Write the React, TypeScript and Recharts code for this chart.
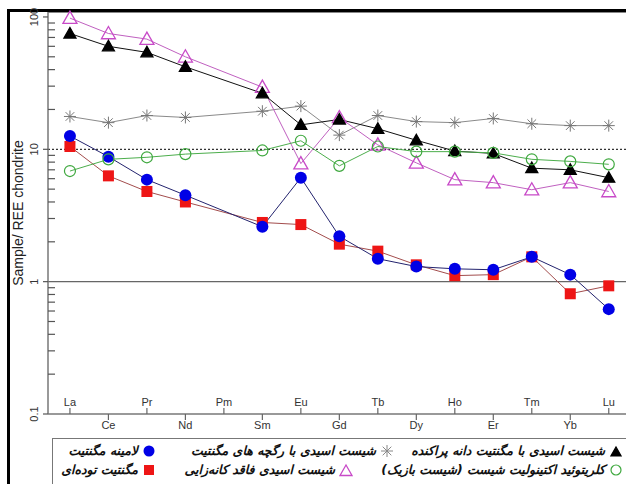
import React from 'react';
import { LineChart, Line, XAxis, YAxis, ReferenceLine } from 'recharts';

// REE elements along the x axis (Pm has no data)
const elements = ['La', 'Ce', 'Pr', 'Nd', 'Pm', 'Sm', 'Eu', 'Gd', 'Tb', 'Dy', 'Ho', 'Er', 'Tm', 'Yb', 'Lu'];

// chondrite-normalised values
const disseminated = [75, 60, 54, 42, null, 26.5, 15.3, 16.8, 14.3, 11.7, 9.7, 9.3, 7.2, 7.0, 6.1];
const veinlet = [17.7, 15.9, 18, 17.4, null, 19.4, 21.2, 12.8, 18, 16.2, 15.9, 17.1, 15.6, 15.1, 15.1];
const basicSchist = [6.85, 8.4, 8.7, 9.2, null, 9.8, 11.6, 7.5, 10.5, 9.6, 9.6, 9.4, 8.4, 8.1, 7.7];
const barren = [98, 75, 68, 50, null, 29.5, 7.8, 17.4, 10.8, 7.9, 5.9, 5.6, 4.95, 5.6, 4.8];
const laminated = [12.6, 8.8, 5.9, 4.5, null, 2.6, 6.1, 2.2, 1.49, 1.3, 1.25, 1.23, 1.54, 1.13, 0.62];
const massive = [10.5, 6.3, 4.8, 4.0, null, 2.8, 2.7, 1.92, 1.7, 1.34, 1.11, 1.13, 1.54, 0.81, 0.93];

const yMajor = [0.1, 1, 10, 100];
const yTicks = [
  0.1, 0.2, 0.3, 0.4, 0.5, 0.6, 0.7, 0.8, 0.9,
  1, 2, 3, 4, 5, 6, 7, 8, 9,
  10, 20, 30, 40, 50, 60, 70, 80, 90, 100,
];

const labels = {
  disseminated: 'شیست اسیدی با مگنتیت دانه پراکنده',
  veinlet: 'شیست اسیدی با رگچه های مگنتیت',
  laminated: 'لامینه مگنتیت',
  basicSchist: 'کلریتوئید اکتینولیت شیست (شیست بازیک)',
  barren: 'شیست اسیدی فاقد کانه‌زایی',
  massive: 'مگنتیت توده‌ای',
};

const data = elements.map((el, i) => ({
  x: i + 1,
  el,
  disseminated: disseminated[i],
  veinlet: veinlet[i],
  basicSchist: basicSchist[i],
  barren: barren[i],
  laminated: laminated[i],
  massive: massive[i],
}));

const FONT = '"Liberation Sans", Arial, sans-serif';

// marker shapes
const Tri = ({ cx, cy, fill, stroke, s = 6 }: any) => (
  <polygon
    points={`${cx},${cy - s} ${cx - s},${cy + s * 0.75} ${cx + s},${cy + s * 0.75}`}
    fill={fill}
    stroke={stroke}
    strokeWidth={1.3}
  />
);
const Star = ({ cx, cy, r = 6, stroke = '#777' }: any) => {
  const d = r * 0.72;
  return (
    <g stroke={stroke} strokeWidth={1}>
      <line x1={cx - r} y1={cy} x2={cx + r} y2={cy} />
      <line x1={cx} y1={cy - r} x2={cx} y2={cy + r} />
      <line x1={cx - d} y1={cy - d} x2={cx + d} y2={cy + d} />
      <line x1={cx - d} y1={cy + d} x2={cx + d} y2={cy - d} />
    </g>
  );
};

const dotFn = (kind: string) => (p: any) => {
  const { cx, cy, index, value } = p;
  if (value == null || cx == null || cy == null) return <g key={`${kind}-${index}`} />;
  const k = `${kind}-${index}`;
  switch (kind) {
    case 'tri':
      return <Tri key={k} cx={cx} cy={cy} fill="#000" stroke="#000" s={6} />;
    case 'otri':
      return <Tri key={k} cx={cx} cy={cy} fill="none" stroke="#c84ac8" s={7} />;
    case 'star':
      return <Star key={k} cx={cx} cy={cy} />;
    case 'ocirc':
      return <circle key={k} cx={cx} cy={cy} r={5.5} fill="none" stroke="#3ea83e" strokeWidth={1.2} />;
    case 'circ':
      return <circle key={k} cx={cx} cy={cy} r={6} fill="#0000e6" />;
    default:
      return <rect key={k} x={cx - 5.5} y={cy - 5.5} width={11} height={11} fill="#ee1515" />;
  }
};

const XTick = ({ x, y, payload }: any) => {
  const i = payload.value - 1;
  const up = i % 2 === 0;
  return (
    <g>
      <line x1={x} x2={x} y1={up ? y - 6 : y} y2={up ? y : y + 6} stroke="#666" strokeWidth={1.2} />
      <text
        x={x}
        y={up ? y - 11 : y + 12}
        textAnchor="middle"
        dominantBaseline="middle"
        fontSize={11}
        fontFamily={FONT}
        fill="#333"
      >
        {elements[i]}
      </text>
    </g>
  );
};

const YTick = ({ x, y, payload }: any) => {
  const major = yMajor.includes(payload.value);
  if (!major) {
    return <line x1={x} x2={x + 7} y1={y} y2={y} stroke="#555" strokeWidth={1.2} />;
  }
  return (
    <g>
      <line x1={x - 5} x2={x} y1={y} y2={y} stroke="#555" strokeWidth={1.2} />
      <text
        x={x - 10}
        y={y}
        transform={`rotate(-90, ${x - 10}, ${y})`}
        textAnchor="middle"
        fontSize={11}
        fontFamily={FONT}
        fill="#333"
      >
        {String(payload.value)}
      </text>
    </g>
  );
};

const Marker = ({ kind }: { kind: string }) => (
  <svg width={14} height={14} style={{ display: 'block' }}>
    {kind === 'tri' && <Tri cx={7} cy={8} fill="#000" stroke="#000" s={5} />}
    {kind === 'otri' && <Tri cx={7} cy={8} fill="none" stroke="#c84ac8" s={6} />}
    {kind === 'star' && <Star cx={7} cy={7} r={6} stroke="#888" />}
    {kind === 'ocirc' && <circle cx={7} cy={7} r={5} fill="none" stroke="#3ea83e" strokeWidth={1.2} />}
    {kind === 'circ' && <circle cx={7} cy={7} r={5.5} fill="#0000e6" />}
    {kind === 'sq' && <rect x={2} y={2} width={10} height={10} fill="#ee1515" />}
  </svg>
);

// right offsets are measured from the legend box's right edge (page x = 672)
const legendItems = [
  { kind: 'tri', text: labels.disseminated, right: 48, top: 4 },
  { kind: 'star', text: labels.veinlet, right: 277, top: 4 },
  { kind: 'circ', text: labels.laminated, right: 515, top: 4 },
  { kind: 'ocirc', text: labels.basicSchist, right: 48, top: 23 },
  { kind: 'otri', text: labels.barren, right: 318, top: 23 },
  { kind: 'sq', text: labels.massive, right: 515, top: 23 },
];

export default function App() {
  return (
    <div style={{ position: 'fixed', left: 0, top: 0, width: 626, height: 484, overflow: 'hidden', background: '#fff' }}>
      <div style={{ position: 'absolute', left: 7, top: 9, width: 640, height: 500, borderLeft: '3px solid #000', borderTop: '3px solid #000' }} />
      <div style={{ position: 'absolute', left: 48, top: 12, width: 600, height: 1, background: '#888' }} />
      <div style={{ position: 'absolute', left: 0, top: 0 }}>
        <LineChart width={640} height={484} data={data} margin={{ top: 12, right: 12, bottom: 50, left: 0 }}>
          <XAxis
            dataKey="x"
            type="number"
            domain={[0.43, 15.5]}
            ticks={data.map((d) => d.x)}
            interval={0}
            tick={<XTick />}
            tickLine={false}
            tickSize={0}
            tickMargin={0}
            height={20}
            stroke="#777"
            strokeWidth={1.5}
          />
          <YAxis
            type="number"
            scale="log"
            domain={[0.1, 109]}
            ticks={yTicks}
            interval={0}
            tick={<YTick />}
            tickLine={false}
            tickSize={0}
            tickMargin={0}
            width={48}
            stroke="#777"
            strokeWidth={1.5}
            label={{
              value: 'Sample/ REE chondrite',
              angle: -90,
              position: 'center',
              dx: -6,
              style: { fontSize: 14, fontFamily: FONT, fill: '#222' },
            }}
          />
          <ReferenceLine y={10} stroke="#000" strokeDasharray="2 2" strokeWidth={1} />
          <ReferenceLine y={1} stroke="#666" strokeWidth={1.2} />
          <Line dataKey="massive" stroke="#a34d4d" strokeWidth={1} connectNulls dot={dotFn('sq')} isAnimationActive={false} />
          <Line dataKey="laminated" stroke="#23236e" strokeWidth={1} connectNulls dot={dotFn('circ')} isAnimationActive={false} />
          <Line dataKey="veinlet" stroke="#8a8a8a" strokeWidth={1} connectNulls dot={dotFn('star')} isAnimationActive={false} />
          <Line dataKey="barren" stroke="#c060c0" strokeWidth={1} connectNulls dot={dotFn('otri')} isAnimationActive={false} />
          <Line dataKey="disseminated" stroke="#111" strokeWidth={1} connectNulls dot={dotFn('tri')} isAnimationActive={false} />
          <Line dataKey="basicSchist" stroke="#4cae4c" strokeWidth={1} connectNulls dot={dotFn('ocirc')} isAnimationActive={false} />
        </LineChart>
      </div>
      <div style={{ position: 'absolute', left: 52, top: 438, width: 620, height: 80, border: '1.5px solid #777', boxSizing: 'border-box' }}>
        {legendItems.map((it) => (
          <div
            key={it.text}
            style={{
              position: 'absolute',
              right: it.right,
              top: it.top,
              display: 'flex',
              alignItems: 'center',
              gap: 4,
              whiteSpace: 'nowrap',
            }}
          >
            <span
              style={{
                direction: 'rtl',
                fontFamily: '"DejaVu Sans", sans-serif',
                fontWeight: 'bold',
                fontStyle: 'italic',
                fontSize: 12.5,
                color: '#111',
              }}
            >
              {it.text}
            </span>
            <Marker kind={it.kind} />
          </div>
        ))}
      </div>
    </div>
  );
}
